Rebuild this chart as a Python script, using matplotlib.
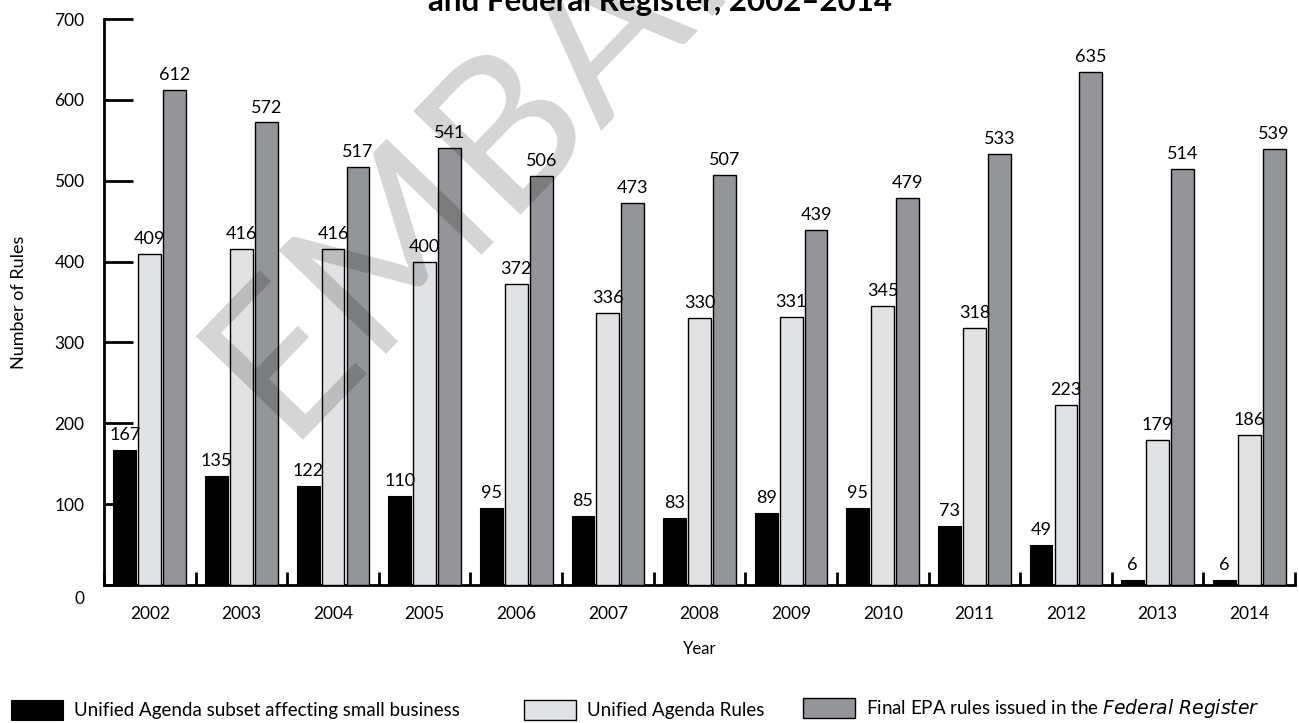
import numpy as np
import matplotlib
matplotlib.use("Agg")
import matplotlib.pyplot as plt
from matplotlib.transforms import ScaledTranslation

plt.rcParams['font.family'] = ['Lato', 'DejaVu Sans']

# values
years = ['2002', '2003', '2004', '2005', '2006', '2007', '2008',
         '2009', '2010', '2011', '2012', '2013', '2014']
small_business = [167, 135, 122, 110, 95, 85, 83, 89, 95, 73, 49, 6, 6]
agenda_rules = [409, 416, 416, 400, 372, 336, 330, 331, 345, 318, 223, 179, 186]
final_rules = [612, 572, 517, 541, 506, 473, 507, 439, 479, 533, 635, 514, 539]
y_ticks = [0, 100, 200, 300, 400, 500, 600, 700]

fig = plt.figure(figsize=(12.99, 7.23), dpi=100)
ax = fig.add_axes([104 / 1299, 1 - 585 / 723, (1295 - 104) / 1299, (585 - 19) / 723])

x = np.arange(len(years))
w = 0.25
off = 0.272
b1 = ax.bar(x - off, small_business, w, color='black', edgecolor='black', linewidth=0.8,
            label='Unified Agenda subset affecting small business', zorder=3)
b2 = ax.bar(x, agenda_rules, w, color='#e1e2e3', edgecolor='black', linewidth=1.0,
            label='Unified Agenda Rules', zorder=3)
b3 = ax.bar(x + off, final_rules, w, color='#939598', edgecolor='black', linewidth=1.0,
            label='Final EPA rules issued in the $\\it{Federal\\ Register}$', zorder=3)

for bars in (b1, b2, b3):
    ax.bar_label(bars, padding=5, fontsize=13, zorder=4)

ax.set_xlim(-0.5, len(years) - 0.5)
ax.set_ylim(0, 700)
ax.set_yticks(y_ticks)
ax.tick_params(axis='y', direction='in', length=21, width=2, pad=14, labelsize=12.5)
ax.set_xticks(x)
ax.set_xticklabels(years)
ax.set_xticks(np.arange(len(years) + 1) - 0.5, minor=True)
ax.tick_params(axis='x', which='major', length=0, pad=15, labelsize=12.5)
ax.tick_params(axis='x', which='minor', direction='in', length=9.5, width=2)

# the "0" label sits a little below the axis line in the reference
lab0 = ax.yaxis.get_major_ticks()[0].label1
lab0.set_transform(lab0.get_transform() + ScaledTranslation(0, -13 / 100, fig.dpi_scale_trans))

for s in ('top', 'right'):
    ax.spines[s].set_visible(False)
ax.spines['left'].set_linewidth(2)
ax.spines['bottom'].set_linewidth(2)

ax.set_ylabel('Number of Rules', fontsize=13, labelpad=20)
ax.set_xlabel('Year', fontsize=12, labelpad=14)

# title, mostly cut off at the top of the image
fig.text(660 / 1299, 1 - 11 / 723, 'and Federal Register, 2002\u20132014',
         ha='center', va='baseline', fontsize=22.5, fontweight='bold')

# watermark, semi-transparent over the bars
fig.text(284 / 1299, 1 - 440 / 723, 'EMBARGOED', fontsize=150, rotation=46,
         rotation_mode='anchor', ha='left', va='baseline', color='black',
         alpha=0.17, zorder=10)

# legend, three separate entries spread along the bottom
for bars, xpos in ((b1, 11), (b2, 524), (b3, 803)):
    fig.legend(handles=[bars], loc='lower left', bbox_to_anchor=(xpos / 1299, 3 / 723),
               frameon=False, fontsize=13.5, handlelength=2.75, handleheight=1.25,
               handletextpad=0.6, borderpad=0, borderaxespad=0)

fig.savefig('out.png', dpi=100)
